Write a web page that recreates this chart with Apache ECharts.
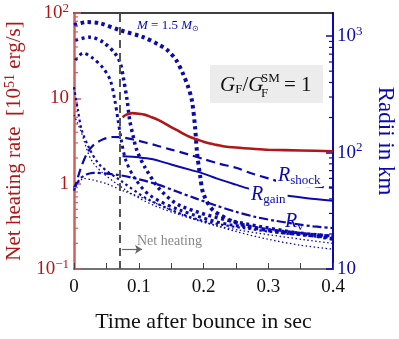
<!DOCTYPE html>
<html>
<head>
<meta charset="utf-8">
<script src="https://cdn.jsdelivr.net/npm/echarts@6/dist/echarts.min.js"></script>
<style>
  html, body { margin: 0; padding: 0; background: #fff; }
  #chart { width: 399px; height: 339px; }
</style>
</head>
<body>
<div id="chart"></div>
<script>
// 数据
var tHeat = [0.075, 0.08, 0.09, 0.1, 0.11, 0.12, 0.13, 0.14, 0.15, 0.16, 0.17, 0.18, 0.19, 0.2, 0.21, 0.22, 0.23, 0.25, 0.28, 0.3, 0.35, 0.4]
var heat = [6.0, 6.4, 6.7, 6.6, 6.4, 6.0, 5.6, 5.1, 4.6, 4.2, 3.8, 3.5, 3.3, 3.1, 2.95, 2.85, 2.75, 2.65, 2.55, 2.5, 2.45, 2.4]

var tShock = [0, 0.01, 0.02, 0.03, 0.045, 0.06, 0.075, 0.09, 0.11, 0.13, 0.15, 0.175, 0.2, 0.225, 0.25, 0.275, 0.3, 0.325, 0.35, 0.375, 0.4]
var rShock = [47, 72, 98, 116, 130, 136, 135, 130, 122, 114, 106, 97, 88, 80, 74, 66, 60, 55, 52, 51, 50]

var tGain = [0.075, 0.1, 0.12, 0.15, 0.18, 0.2, 0.22, 0.25, 0.27, 0.3, 0.33, 0.36, 0.4]
var rGain = [93, 91, 88, 79, 71, 66, 60, 53, 49, 45, 42.5, 40.5, 38.5]

var tNu = [0, 0.01, 0.02, 0.03, 0.05, 0.07, 0.1, 0.13, 0.16, 0.19, 0.22, 0.25, 0.28, 0.31, 0.34, 0.37, 0.4]
var rNu = [50, 60, 65, 67, 66, 64, 59, 53, 46, 40, 35, 31, 28, 26, 24.5, 23.2, 22.5]

var tDot1 = [0, 0.02, 0.04, 0.07, 0.107, 0.13, 0.144, 0.158, 0.168, 0.176, 0.182, 0.187, 0.19, 0.195, 0.2, 0.215, 0.25, 0.3, 0.35, 0.4]
var rDot1 = [1240, 1320, 1290, 1130, 980, 850, 760, 620, 480, 370, 282, 165, 100, 62, 44, 32, 25, 21.5, 20, 19]

var tDot2 = [0.002, 0.025, 0.045, 0.063, 0.071, 0.076, 0.082, 0.086, 0.091, 0.097, 0.11, 0.133, 0.164, 0.241, 0.4]
var rDot2 = [925, 980, 887, 714, 598, 445, 282, 190, 141, 105, 74, 48, 35, 26, 18.1]

var tDot3 = [0.002, 0.014, 0.029, 0.045, 0.056, 0.063, 0.068, 0.073, 0.08, 0.094, 0.117, 0.164, 0.241, 0.4]
var rDot3 = [622, 714, 647, 531, 419, 282, 190, 128, 86, 60, 43, 32, 24, 19.2]

var tDot4 = [0, 0.006, 0.012, 0.025, 0.04, 0.071, 0.117, 0.195, 0.3, 0.4]
var rDot4 = [365, 232, 156, 105, 78, 58, 39, 26.3, 21, 18.4]

var tThinA = [0, 0.015, 0.03, 0.05, 0.08, 0.11, 0.14, 0.17, 0.2, 0.25, 0.3, 0.35, 0.4]
var rThinA = [48, 60, 58, 54, 46, 40, 34, 29, 25.5, 21, 18, 16, 14.8]

var tThinB = [0, 0.01, 0.03, 0.08, 0.13, 0.23, 0.4]
var rThinB = [210, 156, 81, 47.6, 34, 22.9, 16.6]

var xTicks = [0, 0.1, 0.2, 0.3, 0.4]
var tHeatStart = 0.074

var RED = '#b01818'
var AXRED = '#cf6060'
var BLUE = '#0a0ab0'
var FONT = 'Liberation Serif'

function pairs (ts, vs) {
  return ts.map(function (t, i) { return [t, vs[i]] })
}

// 对数轴次刻度
function logMinor (lo, hi) {
  var out = []
  for (var e = Math.floor(Math.log10(lo)); e <= Math.ceil(Math.log10(hi)); e++) {
    for (var k = 2; k <= 9; k++) {
      var v = k * Math.pow(10, e)
      if (v > lo && v < hi) out.push([0, v])
    }
  }
  return out
}

function minorSeries (yIdx, data, color, side) {
  return {
    type: 'custom',
    xAxisIndex: 0,
    yAxisIndex: yIdx,
    silent: true,
    clip: false,
    z: 10,
    data: data,
    renderItem: function (params, api) {
      var cs = params.coordSys
      var p = api.coord([api.value(0), api.value(1)])
      var x0 = side === 'left' ? cs.x : cs.x + cs.width - 4
      return {
        type: 'line',
        shape: { x1: x0, y1: p[1], x2: x0 + 4, y2: p[1] },
        style: { stroke: color, lineWidth: 1.2 }
      }
    }
  }
}

function lineSeries (name, data, yIdx, color, width, type) {
  return {
    name: name,
    type: 'line',
    yAxisIndex: yIdx,
    data: data,
    showSymbol: false,
    smooth: 0.3,
    lineStyle: { color: color, width: width, type: type, cap: 'butt' }
  }
}

function supFmt (e) {
  if (e === 0) return '1'
  if (e === 1) return '10'
  return '10{sup|' + (e < 0 ? '\u2212' + (-e) : e) + '}'
}

var labelR = {
  i: { fontStyle: 'italic', fontSize: 20, fontFamily: FONT, color: BLUE },
  s: { fontSize: 13, fontFamily: FONT, color: BLUE, verticalAlign: 'bottom', padding: [10, 0, 0, 0] }
}

// 曲线标注（白底遮住线）
function rLabel (x, y, text, bg) {
  return {
    type: 'text', x: x, y: y, z: 100,
    style: {
      text: text, fontFamily: FONT, fontSize: 20, fill: BLUE,
      backgroundColor: bg ? '#fff' : null, padding: [0, 2, 0, 2], rich: labelR
    }
  }
}

var chart = echarts.init(document.getElementById('chart'))

var option = {
  animation: false,
  textStyle: { fontFamily: FONT },
  grid: { left: 74, right: 66, top: 13, bottom: 70, containLabel: false, outerBoundsMode: 'none' },
  xAxis: [{
    type: 'value',
    min: 0,
    max: 0.4,
    interval: 0.1,
    name: 'Time after bounce in sec',
    nameLocation: 'middle',
    nameGap: 42,
    nameTextStyle: { color: '#111', fontSize: 22, fontFamily: FONT },
    axisLine: { onZero: false, lineStyle: { color: '#444', width: 1.5 } },
    axisTick: { inside: true, length: 6, lineStyle: { color: '#444' } },
    minorTick: { show: true, splitNumber: 2, length: 6, lineStyle: { color: '#444' } },
    splitLine: { show: false },
    axisLabel: {
      color: '#111', fontSize: 19, fontFamily: FONT, margin: 9,
      formatter: function (v) {
        var r = Math.round(v * 10) / 10
        return xTicks.indexOf(r) >= 0 ? String(r) : ''
      }
    }
  }, {
    type: 'value',
    position: 'top',
    min: 0,
    max: 0.4,
    axisLine: { onZero: false, lineStyle: { color: '#000', width: 1.5 } },
    axisTick: { show: false },
    axisLabel: { show: false },
    splitLine: { show: false }
  }],
  yAxis: [{
    type: 'log',
    logBase: 10,
    min: 0.1,
    max: 100,
    position: 'left',
    name: 'Net heating rate  [10{sup|51} erg/s]',
    nameLocation: 'middle',
    nameRotate: 90,
    nameGap: 48,
    nameTextStyle: {
      color: RED, fontSize: 21, fontFamily: FONT,
      rich: { sup: { fontSize: 14, color: RED, fontFamily: FONT, verticalAlign: 'top', padding: [0, 0, 9, 0] } }
    },
    axisLine: { onZero: false, lineStyle: { color: AXRED, width: 2.5 } },
    axisTick: { inside: true, length: 7, lineStyle: { color: AXRED, width: 1.5 } },
    splitLine: { show: false },
    axisLabel: {
      color: RED, fontSize: 19, fontFamily: FONT, margin: 5,
      formatter: function (v) { return supFmt(Math.round(Math.log10(v))) },
      rich: { sup: { fontSize: 13, color: RED, fontFamily: FONT, verticalAlign: 'top', padding: [0, 0, 9, 0] } }
    }
  }, {
    type: 'log',
    logBase: 10,
    min: 10,
    max: 1580,
    position: 'right',
    name: 'Radii in km',
    nameLocation: 'middle',
    nameRotate: -90,
    nameGap: 33,
    nameTextStyle: { color: BLUE, fontSize: 23, fontFamily: FONT },
    axisLine: { onZero: false, lineStyle: { color: BLUE, width: 2 } },
    axisTick: { inside: true, length: 7, lineStyle: { color: BLUE, width: 1.5 } },
    splitLine: { show: false },
    axisLabel: {
      color: BLUE, fontSize: 19, fontFamily: FONT, margin: 4, showMaxLabel: false,
      formatter: function (v) {
        var e = Math.log10(v)
        if (Math.abs(e - Math.round(e)) > 1e-6) return ''
        return supFmt(Math.round(e))
      },
      rich: { sup: { fontSize: 13, color: BLUE, fontFamily: FONT, verticalAlign: 'top', padding: [0, 0, 9, 0] } }
    }
  }],
  series: [
    lineSeries('dot1', pairs(tDot1, rDot1), 1, BLUE, 4, [3.5, 3.5]),
    lineSeries('dot2', pairs(tDot2, rDot2), 1, BLUE, 3.5, [3, 3.5]),
    lineSeries('dot3', pairs(tDot3, rDot3), 1, BLUE, 3, [3, 3.5]),
    lineSeries('dot4', pairs(tDot4, rDot4), 1, BLUE, 2.2, [2.5, 3]),
    lineSeries('thinA', pairs(tThinA, rThinA), 1, BLUE, 1.3, [1.5, 2.5]),
    lineSeries('thinB', pairs(tThinB, rThinB), 1, BLUE, 1.3, [1.5, 2.5]),
    lineSeries('shock', pairs(tShock, rShock), 1, BLUE, 2.2, [9, 5]),
    lineSeries('gain', pairs(tGain, rGain), 1, BLUE, 2, 'solid'),
    lineSeries('nu', pairs(tNu, rNu), 1, BLUE, 2.2, [9, 3, 3, 3]),
    {
      name: 'heat',
      type: 'line',
      yAxisIndex: 0,
      data: pairs(tHeat, heat),
      showSymbol: false,
      smooth: 0.3,
      z: 5,
      lineStyle: { color: RED, width: 2.6 },
      markLine: {
        silent: true,
        symbol: 'none',
        label: { show: false },
        data: [
          { xAxis: tHeatStart, lineStyle: { color: '#555', width: 2, type: [8, 5] } },
          [
            { coord: [tHeatStart, 0.17], symbol: 'none', lineStyle: { color: '#666', width: 1.2, type: 'solid' } },
            { coord: [0.105, 0.17], symbol: 'arrow', symbolSize: 7 }
          ]
        ]
      }
    },
    minorSeries(0, logMinor(0.1, 100), AXRED, 'left'),
    minorSeries(1, logMinor(10, 1580), BLUE, 'right')
  ],
  graphic: [
    {
      type: 'rect',
      shape: { x: 210, y: 65, width: 113, height: 38 },
      style: { fill: '#ececec' },
      z: 1
    },
    {
      type: 'text', x: 220, y: 85, z: 2,
      style: {
        text: '{i|G}{s|F}/{i|G}',
        verticalAlign: 'middle', fontFamily: FONT, fontSize: 21, fill: '#111',
        rich: {
          i: { fontStyle: 'italic', fontSize: 21, fontFamily: FONT, color: '#111' },
          s: { fontSize: 13, fontFamily: FONT, color: '#111', verticalAlign: 'bottom', padding: [10, 0, 0, 0] }
        }
      }
    },
    { type: 'text', x: 261, y: 87, z: 2, style: { text: 'F', fontFamily: FONT, fontSize: 13, fill: '#111' } },
    { type: 'text', x: 261, y: 72, z: 2, style: { text: 'SM', fontFamily: FONT, fontSize: 13, fill: '#111' } },
    { type: 'text', x: 284, y: 85, z: 2, style: { text: '= 1', verticalAlign: 'middle', fontFamily: FONT, fontSize: 21, fill: '#111' } },
    {
      type: 'text', x: 137, y: 19,
      style: {
        text: '{i|M} = 1.5 {i|M}{s|\u2299}',
        fontFamily: FONT, fontSize: 13, fill: BLUE,
        rich: {
          i: { fontStyle: 'italic', fontSize: 13, fontFamily: FONT, color: BLUE },
          s: { fontSize: 8, fontFamily: FONT, color: BLUE, verticalAlign: 'bottom', padding: [6, 0, 0, 0] }
        }
      }
    },
    rLabel(276, 164, '{i|R}{s|shock}', true),
    rLabel(249, 183, '{i|R}{s|gain}', true),
    rLabel(283, 210, '{i|R}{s|\u03bd}', false),
    { type: 'text', x: 137, y: 234, style: { text: 'Net heating', fontFamily: FONT, fontSize: 14, fill: '#888' } }
  ]
}

chart.setOption(option)
</script>
</body>
</html>
